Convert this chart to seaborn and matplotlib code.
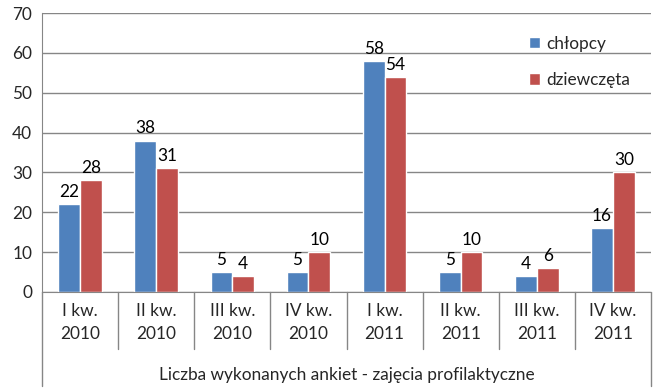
import matplotlib
matplotlib.use("Agg")
import matplotlib.pyplot as plt
import seaborn as sns
import pandas as pd

kwartaly = ["I kw.\n2010", "II kw.\n2010", "III kw.\n2010", "IV kw.\n2010",
            "I kw.\n2011", "II kw.\n2011", "III kw.\n2011", "IV kw.\n2011"]
chlopcy = [22, 38, 5, 5, 58, 5, 4, 16]
dziewczeta = [28, 31, 4, 10, 54, 10, 6, 30]
serie = ["chłopcy", "dziewczęta"]
kolory = ["#4F81BD", "#C0504D"]
tytul_osi = "Liczba wykonanych ankiet - zajęcia profilaktyczne"

df = pd.DataFrame({
    "kwartal": kwartaly * 2,
    "liczba": chlopcy + dziewczeta,
    "plec": [serie[0]] * len(kwartaly) + [serie[1]] * len(kwartaly),
})

sns.set_style("white")
plt.rcParams["font.family"] = ["Lato", "DejaVu Sans"]
fs = 12.4
grey = "#868686"

fig = plt.figure(figsize=(6.54, 3.91), dpi=100)
ax = fig.add_axes([42 / 654, 1 - 292 / 391, 609 / 654, 279 / 391])

sns.barplot(data=df, x="kwartal", y="liczba", hue="plec", palette=kolory,
            width=0.57, saturation=1, ax=ax, legend=True)

for cont in ax.containers:
    ax.bar_label(cont, padding=3, fontsize=fs, color="black")

ax.set_ylim(0, 70)
ax.set_xlim(-0.5, len(kwartaly) - 0.5)
ax.set_yticks(range(0, 71, 10))
ax.yaxis.grid(True, color=grey, lw=1)
ax.set_axisbelow(True)
ax.set_xlabel("")
ax.set_ylabel("")
ax.tick_params(axis="y", length=4, color=grey, labelsize=fs, pad=3)
ax.tick_params(axis="x", length=0, labelsize=fs, pad=8)
for t in ax.get_xticklabels():
    t.set_linespacing(1.5)

for s in ["top", "right"]:
    ax.spines[s].set_visible(False)
for s in ["left", "bottom"]:
    ax.spines[s].set_color(grey)

# dividers under the category axis
low = -(349 - 292) / 279
bottom = -(386 - 292) / 279
for i in range(1, len(kwartaly)):
    ax.plot([i - 0.5, i - 0.5], [0, low * 70], color=grey, lw=1, clip_on=False,
            transform=ax.transData)
ax.plot([0, 0], [0, bottom], color=grey, lw=1, clip_on=False, transform=ax.transAxes)
ax.plot([1, 1], [0, bottom], color=grey, lw=1, clip_on=False, transform=ax.transAxes)
ax.text(0.5, -(375 - 292) / 279, tytul_osi, transform=ax.transAxes,
        ha="center", va="center", fontsize=fs)

ax.legend(loc="upper left", bbox_to_anchor=(0.785, 0.95), frameon=False,
          fontsize=fs, handlelength=0.65, handleheight=0.65, handletextpad=0.35,
          labelspacing=1.2, borderpad=0)

fig.savefig("out.png", dpi=100)
